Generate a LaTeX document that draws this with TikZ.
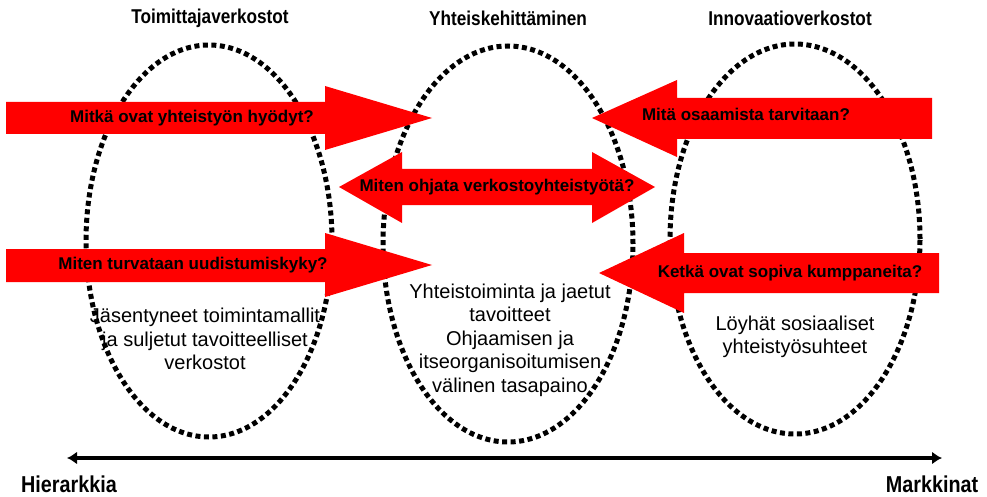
\documentclass[tikz,border=0pt]{standalone}
\usepackage{fontspec}
\setmainfont{Liberation Sans}
\newfontfamily\narrowbold[FakeStretch=0.86]{Liberation Sans Bold}
\usetikzlibrary{arrows.meta,shapes.geometric}
\definecolor{arrowred}{RGB}{255,0,0}
\begin{document}
\begin{tikzpicture}[x=1pt,y=-1pt,
  cluster/.style={ellipse,draw=black,line width=5pt,dash pattern=on 5pt off 3.5pt,inner sep=0pt},
  blockarrow/.style={fill=arrowred,draw=none},
  qlabel/.style={font=\bfseries\fontsize{17}{20}\selectfont,inner sep=0pt},
  heading/.style={font=\narrowbold\fontsize{20}{24}\selectfont,inner sep=0pt},
  bodytext/.style={font=\fontsize{20}{23.5}\selectfont,align=center,inner sep=0pt},
  axislabel/.style={font=\narrowbold\fontsize{23}{27}\selectfont,inner sep=0pt},
  axisline/.style={line width=4pt,{Latex[length=10pt,width=13pt]}-{Latex[length=10pt,width=13pt]}}]
\useasboundingbox[fill=white] (0,0) rectangle (987,497);

% three network types as dotted ellipses
\node[cluster,minimum width=246pt,minimum height=392pt] (supply) at (209,241) {};
\node[cluster,minimum width=250pt,minimum height=396pt] (codev) at (508,244) {};
\node[cluster,minimum width=250pt,minimum height=390pt] (innov) at (795,239) {};

% column headings
\node[heading] (hsupply) at (210,18) {Toimittajaverkostot};
\node[heading] (hcodev) at (508,18) {Yhteiskehittäminen};
\node[heading] (hinnov) at (790,18) {Innovaatioverkostot};

% block arrows with the guiding questions
\fill[blockarrow] (6,102) -- (325,102) -- (325,86) -- (432,118) -- (325,150) -- (325,134) -- (6,134) -- cycle;
\node[qlabel] (q1) at (192,118) {Mitkä ovat yhteistyön hyödyt?};

\fill[blockarrow] (6,249) -- (325,249) -- (325,233) -- (432,265) -- (325,297) -- (325,282) -- (6,282) -- cycle;
\node[qlabel] (q2) at (193,265) {Miten turvataan uudistumiskyky?};

\fill[blockarrow] (339,187) -- (402,152) -- (402,169) -- (592,169) -- (592,152) -- (655,187)
  -- (592,223) -- (592,205) -- (402,205) -- (402,223) -- cycle;
\node[qlabel] (q3) at (497,187) {Miten ohjata verkostoyhteistyötä?};

\fill[blockarrow] (592,118) -- (677,80) -- (677,98) -- (932,98) -- (932,139) -- (677,139) -- (677,157) -- cycle;
\node[qlabel] (q4) at (746,114) {Mitä osaamista tarvitaan?};

\fill[blockarrow] (599,273) -- (684,233) -- (684,253) -- (939,253) -- (939,293) -- (684,293) -- (684,313) -- cycle;
\node[qlabel] (q5) at (790,273) {Ketkä ovat sopiva kumppaneita?};

% descriptions inside the ellipses
\node[bodytext] (dsupply) at (205,339) {Jäsentyneet toimintamallit\\ja suljetut tavoitteelliset\\verkostot};
\node[bodytext] (dcodev) at (510,340) {Yhteistoiminta ja jaetut\\tavoitteet\\Ohjaamisen ja\\itseorganisoitumisen\\välinen tasapaino};
\node[bodytext] (dinnov) at (795,337) {Löyhät sosiaaliset\\yhteistyösuhteet};

% hierarchy--market axis
\coordinate (axL) at (67,458);
\coordinate (axR) at (942,458);
\draw[axisline] (axL) -- (axR);
\node[axislabel] (hier) at (69,484) {Hierarkkia};
\node[axislabel] (mark) at (932,484) {Markkinat};
\end{tikzpicture}
\end{document}
